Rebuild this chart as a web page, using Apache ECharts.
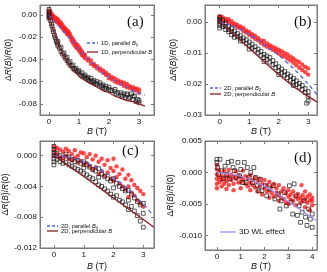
<!DOCTYPE html>
<html><head><meta charset="utf-8">
<script src="https://cdn.jsdelivr.net/npm/echarts@6/dist/echarts.min.js"></script>
<style>html,body{margin:0;padding:0;background:#fff}#c{width:327px;height:272px}</style>
</head><body><div id="c"></div>
<script>
// ---------- Panel (a): 1D ----------
const A_BLACK = [[0,0.005],[0,0.003],[0,0.001],[0,-0.001],[0,-0.003],[0.03,-0.002],[0.05,-0.005],[0.08,-0.008],[0.1,-0.010],[0.13,-0.013],[0.15,-0.015],[0.18,-0.018],[0.2,-0.020],[0.23,-0.022],[0.25,-0.024],[0.28,-0.026],[0.3,-0.028],[0.35,-0.030],[0.4,-0.033],[0.45,-0.035],[0.5,-0.037],[0.55,-0.039],[0.6,-0.041],[0.65,-0.043],[0.7,-0.045],[0.75,-0.046],[0.8,-0.048],[0.85,-0.049],[0.9,-0.050],[0.95,-0.051],[1.0,-0.052],[1.05,-0.054],[1.1,-0.055],[1.15,-0.055],[1.2,-0.056],[1.25,-0.057],[1.3,-0.058],[1.35,-0.059],[1.4,-0.060],[1.45,-0.060],[1.5,-0.061],[1.55,-0.062],[1.6,-0.062],[1.7,-0.063],[1.75,-0.064],[1.8,-0.065],[1.85,-0.066],[1.9,-0.066],[2.0,-0.067],[2.05,-0.068],[2.1,-0.068],[2.2,-0.069],[2.25,-0.071],[2.3,-0.070],[2.4,-0.072],[2.45,-0.073],[2.5,-0.071],[2.55,-0.074],[2.6,-0.072],[2.65,-0.075],[2.7,-0.074],[2.75,-0.071],[2.8,-0.076],[2.85,-0.073],[2.9,-0.078],[2.95,-0.076],[3.0,-0.079],
[0.3,-0.024],[0.4,-0.029],[0.5,-0.034],[0.6,-0.038],[0.7,-0.042],[0.8,-0.045],[0.9,-0.048],[1.0,-0.050],[1.1,-0.052],[1.2,-0.054],[1.3,-0.056],[1.4,-0.057],[1.5,-0.059],[1.6,-0.060],[1.7,-0.061],[1.8,-0.063],[1.9,-0.064],[2.0,-0.065],[2.2,-0.067],[2.4,-0.070],[2.6,-0.071],[2.8,-0.073],[3.0,-0.077]];
const A_RED = [[0,0.004],[0,0.002],[0,0.000],[0,-0.002],[0.05,0.003],[0.05,0.000],[0.1,0.001],[0.1,-0.002],[0.15,-0.001],[0.15,-0.003],[0.2,-0.002],[0.2,-0.005],[0.25,-0.003],[0.25,-0.006],[0.3,-0.004],[0.3,-0.007],[0.35,-0.006],[0.35,-0.009],[0.4,-0.007],[0.4,-0.010],[0.45,-0.009],[0.45,-0.012],[0.5,-0.011],[0.5,-0.014],[0.55,-0.012],[0.55,-0.015],[0.6,-0.014],[0.6,-0.017],[0.65,-0.015],[0.65,-0.018],[0.7,-0.017],[0.7,-0.020],[0.75,-0.020],[0.75,-0.023],[0.8,-0.022],[0.8,-0.025],[0.85,-0.024],[0.85,-0.027],[0.9,-0.026],[0.9,-0.029],[0.95,-0.027],[0.95,-0.030],[1.0,-0.029],[1.0,-0.032],[1.05,-0.031],[1.05,-0.034],[1.1,-0.033],[1.1,-0.036],[1.15,-0.035],[1.15,-0.037],[1.2,-0.036],[1.2,-0.039],[1.3,-0.039],[1.3,-0.041],[1.4,-0.041],[1.4,-0.044],[1.5,-0.044],[1.5,-0.046],[1.6,-0.046],[1.6,-0.048],[1.7,-0.048],[1.7,-0.050],[1.8,-0.050],[1.8,-0.052],[1.9,-0.052],[1.9,-0.054],[2.0,-0.054],[2.0,-0.057],[2.1,-0.056],[2.1,-0.058],[2.2,-0.057],[2.2,-0.060],[2.3,-0.059],[2.3,-0.061],[2.4,-0.060],[2.4,-0.062],[2.5,-0.061],[2.5,-0.064],[2.6,-0.062],[2.6,-0.065],[2.7,-0.064],[2.7,-0.066],[2.8,-0.065],[2.8,-0.067],[2.9,-0.066],[2.9,-0.068],[3.0,-0.067],[3.0,-0.070]];
const A_PAR_X = [0,0.1,0.2,0.3,0.4,0.5,0.6,0.8,1.0,1.2,1.4,1.6,1.8,2.0,2.2,2.4,2.6,2.8,3.0,3.2];
const A_PAR_Y = [0,-0.003,-0.006,-0.009,-0.012,-0.015,-0.018,-0.024,-0.031,-0.037,-0.042,-0.047,-0.052,-0.056,-0.059,-0.062,-0.065,-0.068,-0.070,-0.072];
const A_PERP_X = [0,0.05,0.1,0.2,0.3,0.4,0.5,0.6,0.8,1.0,1.2,1.4,1.6,1.8,2.0,2.2,2.4,2.6,2.8,3.0,3.2];
const A_PERP_Y = [0,-0.005,-0.010,-0.018,-0.026,-0.032,-0.037,-0.042,-0.049,-0.055,-0.059,-0.062,-0.065,-0.068,-0.070,-0.073,-0.075,-0.077,-0.078,-0.080,-0.082];

// ---------- Panel (b): 2D ----------
const B_BLACK = [[0,0.0015],[0,0.0008],[0,0.0002],[0,-0.0005],[0,-0.0012],[0,-0.0020],[0.1,0.0005],[0.1,-0.0008],[0.1,-0.0015],[0.2,-0.0005],[0.2,-0.0015],[0.2,-0.0025],[0.3,-0.0015],[0.3,-0.0025],[0.3,-0.0032],[0.4,-0.0022],[0.4,-0.0032],[0.4,-0.0042],[0.5,-0.0030],[0.5,-0.0040],[0.5,-0.0050],[0.6,-0.0038],[0.6,-0.0048],[0.7,-0.0045],[0.7,-0.0055],[0.7,-0.0062],[0.8,-0.0052],[0.8,-0.0062],[0.9,-0.0058],[0.9,-0.0070],[1.0,-0.0065],[1.0,-0.0078],[1.0,-0.0088],[1.1,-0.0072],[1.1,-0.0085],[1.2,-0.0080],[1.2,-0.0092],[1.3,-0.0088],[1.3,-0.0100],[1.4,-0.0095],[1.4,-0.0108],[1.5,-0.0105],[1.5,-0.0115],[1.5,-0.0128],[1.6,-0.0110],[1.6,-0.0122],[1.7,-0.0115],[1.7,-0.0130],[1.8,-0.0125],[1.8,-0.0138],[1.9,-0.0135],[1.9,-0.0148],[2.0,-0.0145],[2.0,-0.0158],[2.0,-0.0170],[2.1,-0.0152],[2.1,-0.0165],[2.2,-0.0160],[2.2,-0.0172],[2.3,-0.0168],[2.3,-0.0180],[2.4,-0.0175],[2.4,-0.0188],[2.5,-0.0182],[2.5,-0.0195],[2.5,-0.0205],[2.6,-0.0190],[2.6,-0.0202],[2.7,-0.0198],[2.7,-0.0210],[2.8,-0.0205],[2.8,-0.0218],[2.9,-0.0215],[2.9,-0.0228],[3.0,-0.0225],[3.0,-0.0240],[3.0,-0.0255],[2.95,-0.0262]];
const B_RED = [[0,0.0018],[0,0.0012],[0,0.0006],[0,0.0000],[0.1,0.0015],[0.1,0.0005],[0.2,0.0010],[0.2,0.0002],[0.3,0.0008],[0.3,-0.0002],[0.4,0.0002],[0.4,-0.0008],[0.5,-0.0005],[0.5,-0.0012],[0.6,-0.0010],[0.6,-0.0018],[0.7,-0.0015],[0.7,-0.0022],[0.8,-0.0020],[0.8,-0.0030],[0.9,-0.0028],[0.9,-0.0035],[1.0,-0.0033],[1.0,-0.0042],[1.1,-0.0040],[1.1,-0.0048],[1.2,-0.0045],[1.2,-0.0055],[1.3,-0.0052],[1.3,-0.0060],[1.4,-0.0060],[1.4,-0.0068],[1.5,-0.0062],[1.5,-0.0075],[1.6,-0.0070],[1.6,-0.0080],[1.7,-0.0075],[1.7,-0.0085],[1.8,-0.0080],[1.8,-0.0090],[1.9,-0.0085],[1.9,-0.0095],[2.0,-0.0090],[2.0,-0.0102],[2.1,-0.0095],[2.1,-0.0108],[2.2,-0.0100],[2.2,-0.0112],[2.3,-0.0105],[2.3,-0.0118],[2.4,-0.0112],[2.4,-0.0125],[2.5,-0.0118],[2.5,-0.0132],[2.6,-0.0125],[2.6,-0.0140],[2.7,-0.0130],[2.7,-0.0148],[2.8,-0.0138],[2.8,-0.0155],[2.9,-0.0145],[2.9,-0.0162],[3.0,-0.0150],[3.0,-0.0170]];
const B_PAR_X = [0,0.5,1,1.5,2,2.5,3,3.3];
const B_PAR_Y = [0,-0.0015,-0.0040,-0.0072,-0.0108,-0.0150,-0.0200,-0.0235];
const B_PERP_X = [0,0.5,1,1.5,2,2.5,3,3.3];
const B_PERP_Y = [0,-0.0042,-0.0085,-0.0128,-0.0170,-0.0208,-0.0240,-0.0258];

// ---------- Panel (c): 2D ----------
const C_BLACK = [[0,0.0012],[0,0.0008],[0,0.0004],[0,0.0000],[0,-0.0004],[0,-0.0008],[0,-0.0012],[0.1,0.0003],[0.1,-0.0005],[0.2,0.0000],[0.2,-0.0008],[0.3,-0.0003],[0.3,-0.0010],[0.4,0.0002],[0.4,-0.0009],[0.5,-0.0002],[0.5,-0.0012],[0.6,-0.0005],[0.6,-0.0014],[0.7,-0.0008],[0.7,-0.0016],[0.8,-0.0006],[0.8,-0.0018],[0.9,-0.0010],[0.9,-0.0020],[1.0,-0.0008],[1.0,-0.0016],[1.0,-0.0023],[1.1,-0.0012],[1.1,-0.0025],[1.2,-0.0015],[1.2,-0.0028],[1.3,-0.0018],[1.3,-0.0030],[1.4,-0.0020],[1.4,-0.0034],[1.5,-0.0017],[1.5,-0.0028],[1.5,-0.0038],[1.6,-0.0024],[1.6,-0.0040],[1.7,-0.0027],[1.7,-0.0043],[1.8,-0.0030],[1.8,-0.0046],[1.9,-0.0033],[1.9,-0.0050],[2.0,-0.0030],[2.0,-0.0042],[2.0,-0.0054],[2.1,-0.0036],[2.1,-0.0052],[2.2,-0.0040],[2.2,-0.0058],[2.3,-0.0043],[2.3,-0.0060],[2.4,-0.0046],[2.4,-0.0064],[2.5,-0.0045],[2.5,-0.0058],[2.5,-0.0070],[2.6,-0.0050],[2.6,-0.0066],[2.7,-0.0055],[2.7,-0.0072],[2.8,-0.0060],[2.8,-0.0078],[2.9,-0.0064],[2.9,-0.0085],[3.0,-0.0062],[3.0,-0.0075],[3.0,-0.0093]];
const C_RED = [[0,0.0012],[0,0.0006],[0,0.0000],[0.1,0.0010],[0.1,0.0002],[0.2,0.0008],[0.2,-0.0002],[0.3,0.0005],[0.3,-0.0003],[0.4,0.0009],[0.4,0.0000],[0.5,0.0006],[0.5,-0.0004],[0.6,0.0002],[0.6,-0.0006],[0.7,0.0007],[0.7,-0.0003],[0.8,0.0000],[0.8,-0.0009],[0.9,0.0004],[0.9,-0.0007],[1.0,0.0003],[1.0,-0.0012],[1.1,-0.0002],[1.1,-0.0010],[1.2,0.0002],[1.2,-0.0014],[1.3,-0.0005],[1.3,-0.0018],[1.4,0.0000],[1.4,-0.0015],[1.5,-0.0008],[1.5,-0.0024],[1.6,-0.0004],[1.6,-0.0020],[1.7,-0.0012],[1.7,-0.0026],[1.8,-0.0006],[1.8,-0.0022],[1.9,-0.0016],[1.9,-0.0030],[2.0,-0.0004],[2.0,-0.0020],[2.0,-0.0033],[2.1,-0.0014],[2.1,-0.0028],[2.2,-0.0024],[2.2,-0.0036],[2.3,-0.0018],[2.3,-0.0040],[2.4,-0.0030],[2.4,-0.0044],[2.5,-0.0025],[2.5,-0.0040],[2.5,-0.0054],[2.6,-0.0032],[2.6,-0.0048],[2.7,-0.0038],[2.7,-0.0052],[2.8,-0.0042],[2.8,-0.0058],[2.9,-0.0046],[2.9,-0.0062],[3.0,-0.0050],[3.0,-0.0066]];
const C_PAR_X = [0,0.5,1,1.5,2,2.5,3,3.3];
const C_PAR_Y = [0,-0.0002,-0.0008,-0.0017,-0.0029,-0.0044,-0.0063,-0.0076];
const C_PERP_X = [0,1,2,3,3.35];
const C_PERP_Y = [0,-0.0027,-0.0055,-0.0083,-0.0093];

// ---------- Panel (d): 3D ----------
const D_BLACK = [[0,0.0021],[0,0.0016],[0.03,0.0008],[0.13,0.0021],[0.27,-0.0010],[0.34,0.0010],[0.47,0.0016],[0.54,-0.0010],[0.68,0.0008],[0.81,-0.0008],[0.88,0.0016],[1.0,0.0005],[1.15,0.0016],[1.22,-0.0016],[1.28,0.0008],[1.42,0.0000],[1.49,-0.0016],[1.62,-0.0008],[1.69,-0.0021],[1.82,-0.0011],[1.89,-0.0029],[2.03,-0.0021],[2.09,-0.0037],[2.23,-0.0026],[2.36,-0.0021],[2.43,-0.0042],[2.57,-0.0034],[2.64,-0.0058],[2.7,-0.0045],[2.84,-0.0032],[2.91,-0.0053],[3.04,-0.0021],[3.11,-0.0047],[3.18,-0.0066],[3.24,-0.0018],[3.31,-0.0037],[3.38,-0.0068],[3.45,-0.0053],[3.51,-0.0079],[3.58,-0.0063],[3.65,-0.0045],[3.72,-0.0071],[3.78,-0.0084],[3.85,-0.0058],[3.92,-0.0074],[4.0,-0.0087],[4.0,-0.0066],[0.07,-0.0003],[0.2,0.0003],[0.41,-0.0003],[0.61,0.0018],[0.74,0.0003],[0.95,-0.0005],[1.08,-0.0016],[1.35,-0.0008],[1.55,0.0008],[1.76,-0.0029]];
const D_RED = [[0,0.0012],[0,0.0005],[0,-0.0003],[0,-0.0010],[0,-0.0018],[0,-0.0025],[0.1,0.0002],[0.1,-0.0008],[0.1,-0.0015],[0.2,-0.0005],[0.2,-0.0012],[0.2,-0.0022],[0.3,0.0003],[0.3,-0.0010],[0.3,-0.0018],[0.4,-0.0006],[0.4,-0.0014],[0.4,-0.0026],[0.5,0.0004],[0.5,-0.0008],[0.5,-0.0020],[0.6,-0.0003],[0.6,-0.0012],[0.7,-0.0007],[0.7,-0.0018],[0.7,-0.0028],[0.8,0.0002],[0.8,-0.0010],[0.9,-0.0005],[0.9,-0.0016],[1.0,-0.0008],[1.0,-0.0015],[1.0,-0.0025],[1.1,0.0003],[1.1,-0.0012],[1.2,-0.0006],[1.2,-0.0018],[1.3,-0.0010],[1.3,-0.0022],[1.4,-0.0004],[1.4,-0.0016],[1.4,-0.0028],[1.5,-0.0012],[1.5,-0.0020],[1.6,-0.0008],[1.6,-0.0024],[1.7,-0.0015],[1.7,-0.0030],[1.8,-0.0010],[1.8,-0.0022],[1.9,-0.0018],[1.9,-0.0035],[2.0,-0.0012],[2.0,-0.0025],[2.1,-0.0020],[2.1,-0.0030],[2.2,-0.0015],[2.2,-0.0028],[2.2,-0.0040],[2.3,-0.0022],[2.3,-0.0033],[2.4,-0.0018],[2.4,-0.0038],[2.5,-0.0025],[2.5,-0.0032],[2.6,-0.0020],[2.6,-0.0036],[2.6,-0.0045],[2.7,-0.0030],[2.7,-0.0040],[2.8,-0.0025],[2.8,-0.0042],[2.9,-0.0033],[2.9,-0.0048],[3.0,-0.0028],[3.0,-0.0038],[3.0,-0.0050],[3.1,-0.0035],[3.1,-0.0043],[3.2,-0.0030],[3.2,-0.0045],[3.3,-0.0038],[3.3,-0.0052],[3.4,-0.0034],[3.4,-0.0042],[3.5,-0.0040],[3.5,-0.0048],[3.55,-0.0020],[3.6,-0.0036],[3.6,-0.0045],[3.7,-0.0042],[3.7,-0.0055],[3.7,-0.0030],[3.8,-0.0038],[3.8,-0.0048],[3.9,-0.0044],[3.9,-0.0035],[3.9,-0.0060],[4.0,-0.0045],[4.0,-0.0052],[4.0,-0.0040]];
const D_WL_X = [0,0.5,1,1.5,2,2.5,3,3.5,4,4.15];
const D_WL_Y = [0,-0.0002,-0.0006,-0.0013,-0.0022,-0.0033,-0.0046,-0.0059,-0.0072,-0.0076];

// ---------- Axis ticks ----------
const X_TICKS_ABC = [0,1,2,3];
const X_TICKS_D = [0,1,2,3,4];
const Y_TICKS_A = [0,-0.02,-0.04,-0.06,-0.08];
const Y_TICKS_B = [0,-0.01,-0.02,-0.03];
const Y_TICKS_C = [0,-0.004,-0.008,-0.012];
const Y_TICKS_D = [0.005,0,-0.005,-0.010];

const zip = (xs, ys) => xs.map((x, i) => [x, ys[i]]);

const FONT = 'Liberation Sans, Arial, sans-serif';
const FRAME = '#7a7a7a';
const panels = [
  {grid:{left:40,top:5,width:114,height:110}, xr:[-0.3,3.5], yr:[-0.09,0.009], xt:X_TICKS_ABC, yt:Y_TICKS_A, dec:2, nameGapX:12, nameGapY:27},
  {grid:{left:205,top:5,width:112,height:110}, xr:[-0.5,3.3], yr:[-0.03,0.0054], xt:X_TICKS_ABC, yt:Y_TICKS_B, dec:2, nameGapX:12, nameGapY:27},
  {grid:{left:40,top:141,width:114,height:109}, xr:[-0.47,3.36], yr:[-0.012,0.0019], xt:X_TICKS_ABC, yt:Y_TICKS_C, dec:3, nameGapX:14, nameGapY:30},
  {grid:{left:205,top:141,width:112,height:109}, xr:[-0.5,4.2], yr:[-0.0123,0.005], xt:X_TICKS_D, yt:Y_TICKS_D, dec:3, nameGapX:12, nameGapY:30}
];

const grids = [], xAxes = [], yAxes = [];
panels.forEach((p, i) => {
  grids.push(Object.assign({show:true, borderColor:FRAME, borderWidth:1, backgroundColor:'transparent'}, p.grid));
  const common = {gridIndex:i, type:'value', splitLine:{show:false},
    axisLine:{show:true, onZero:false, lineStyle:{color:FRAME, width:1}},
    axisTick:{show:true, inside:true, length:3, lineStyle:{color:FRAME}}};
  xAxes.push(Object.assign({}, common, {position:'bottom', min:p.xr[0], max:p.xr[1],
    axisTick:Object.assign({}, common.axisTick, {customValues:p.xt}),
    axisLabel:{customValues:p.xt, fontSize:8, color:'#111', fontFamily:FONT, margin:3, formatter:v=>String(Math.round(v))},
    name:'{i|B} (T)', nameLocation:'middle', nameGap:p.nameGapX,
    nameTextStyle:{fontSize:9, color:'#111', fontFamily:FONT, rich:{i:{fontStyle:'italic', fontSize:9, fontFamily:FONT, color:'#111'}}}}));
  xAxes.push(Object.assign({}, common, {position:'top', min:p.xr[0], max:p.xr[1],
    axisTick:Object.assign({}, common.axisTick, {customValues:p.xt}), axisLabel:{show:false}}));
  yAxes.push(Object.assign({}, common, {position:'left', min:p.yr[0], max:p.yr[1],
    axisTick:Object.assign({}, common.axisTick, {customValues:p.yt}),
    axisLabel:{customValues:p.yt, fontSize:8, color:'#111', fontFamily:FONT, margin:3, formatter:v=>(Math.abs(v)<1e-9?0:v).toFixed(p.dec)},
    name:'Δ{i|R}({i|B})/{i|R}(0)', nameLocation:'middle', nameGap:p.nameGapY,
    nameTextStyle:{fontSize:8.5, color:'#111', fontFamily:FONT, rich:{i:{fontStyle:'italic', fontSize:8.5, fontFamily:FONT, color:'#111'}}}}));
  yAxes.push(Object.assign({}, common, {position:'right', min:p.yr[0], max:p.yr[1],
    axisTick:Object.assign({}, common.axisTick, {customValues:p.yt}), axisLabel:{show:false}}));
});

const RED = '#ff1a1a', BLUE = '#4a63f2', DARKRED = '#8e1b22', PURPLE = '#9c8ff2';
function scatterRed(i, data) {
  return {type:'scatter', xAxisIndex:2*i, yAxisIndex:2*i, data, symbol:'circle', symbolSize:4.4,
    itemStyle:{color:RED}, silent:true, z:2};
}
function scatterBlack(i, data) {
  return {type:'scatter', xAxisIndex:2*i, yAxisIndex:2*i, data, symbol:'rect', symbolSize:3.8,
    itemStyle:{color:'rgba(255,255,255,0)', borderColor:'#1a1a1a', borderWidth:0.9}, silent:true, z:3};
}
function line(i, data, color, dashed, w) {
  return {type:'line', xAxisIndex:2*i, yAxisIndex:2*i, data, showSymbol:false, smooth:0.3, silent:true, z:4,
    lineStyle:{color, width:w||1.3, type: dashed ? [4,3] : 'solid'}};
}

const series = [
  scatterRed(0, A_RED), scatterBlack(0, A_BLACK),
  line(0, zip(A_PAR_X, A_PAR_Y), BLUE, true), line(0, zip(A_PERP_X, A_PERP_Y), DARKRED, false),
  scatterRed(1, B_RED), scatterBlack(1, B_BLACK),
  line(1, zip(B_PAR_X, B_PAR_Y), BLUE, true), line(1, zip(B_PERP_X, B_PERP_Y), DARKRED, false),
  scatterRed(2, C_RED), scatterBlack(2, C_BLACK),
  line(2, zip(C_PAR_X, C_PAR_Y), BLUE, true), line(2, zip(C_PERP_X, C_PERP_Y), DARKRED, false),
  scatterRed(3, D_RED), scatterBlack(3, D_BLACK),
  line(3, zip(D_WL_X, D_WL_Y), PURPLE, false, 1.2)
];

const LEG_FONT = 5.8;
const legRich = {s:{fontSize:LEG_FONT*0.7, fontFamily:FONT, color:'#111', verticalAlign:'bottom', padding:[3,0,0,0]},
                 i:{fontStyle:'italic', fontSize:LEG_FONT, fontFamily:FONT, color:'#111'}};
function legItem(x, y, color, dashed, label, len, fs) {
  return [
    {type:'line', shape:{x1:x, y1:y, x2:x+len, y2:y}, style:{stroke:color, lineWidth:1.3, lineDash: dashed ? [3,2] : null}, silent:true, z:10},
    {type:'text', x:x+len+3, y:y, style:{text:label, fontSize:fs||LEG_FONT, fontFamily:FONT, fill:'#111', verticalAlign:'middle', rich:legRich}, silent:true, z:10}
  ];
}
function panelLabel(x, y, t) {
  return {type:'text', x, y, style:{text:t, fontSize:15, fontFamily:'Liberation Serif, Times New Roman, serif', fill:'#111', verticalAlign:'middle'}, silent:true, z:10};
}
const graphic = [].concat(
  legItem(87, 43, BLUE, true, '1D, parallel {i|B}{s|∥}', 11),
  legItem(87, 52, DARKRED, false, '1D, perpendicular {i|B}', 11),
  legItem(210, 88, BLUE, true, '2D, parallel {i|B}{s|∥}', 11),
  legItem(210, 94, DARKRED, false, '2D, perpendicular {i|B}', 11),
  legItem(47, 226, BLUE, true, '2D, parallel {i|B}{s|∥}', 11),
  legItem(47, 231, DARKRED, false, '2D, perpendicular {i|B}', 11),
  legItem(220, 232, PURPLE, false, '3D WL effect', 16, 8),
  [panelLabel(127, 22, '(a)'), panelLabel(294, 22, '(b)'), panelLabel(122, 151, '(c)'), panelLabel(294, 158, '(d)')]
);

const chart = echarts.init(document.getElementById('c'), null, {renderer:'canvas'});
chart.setOption({animation:false, backgroundColor:'#fff', grid:grids, xAxis:xAxes, yAxis:yAxes, series, graphic});
</script></body></html>
